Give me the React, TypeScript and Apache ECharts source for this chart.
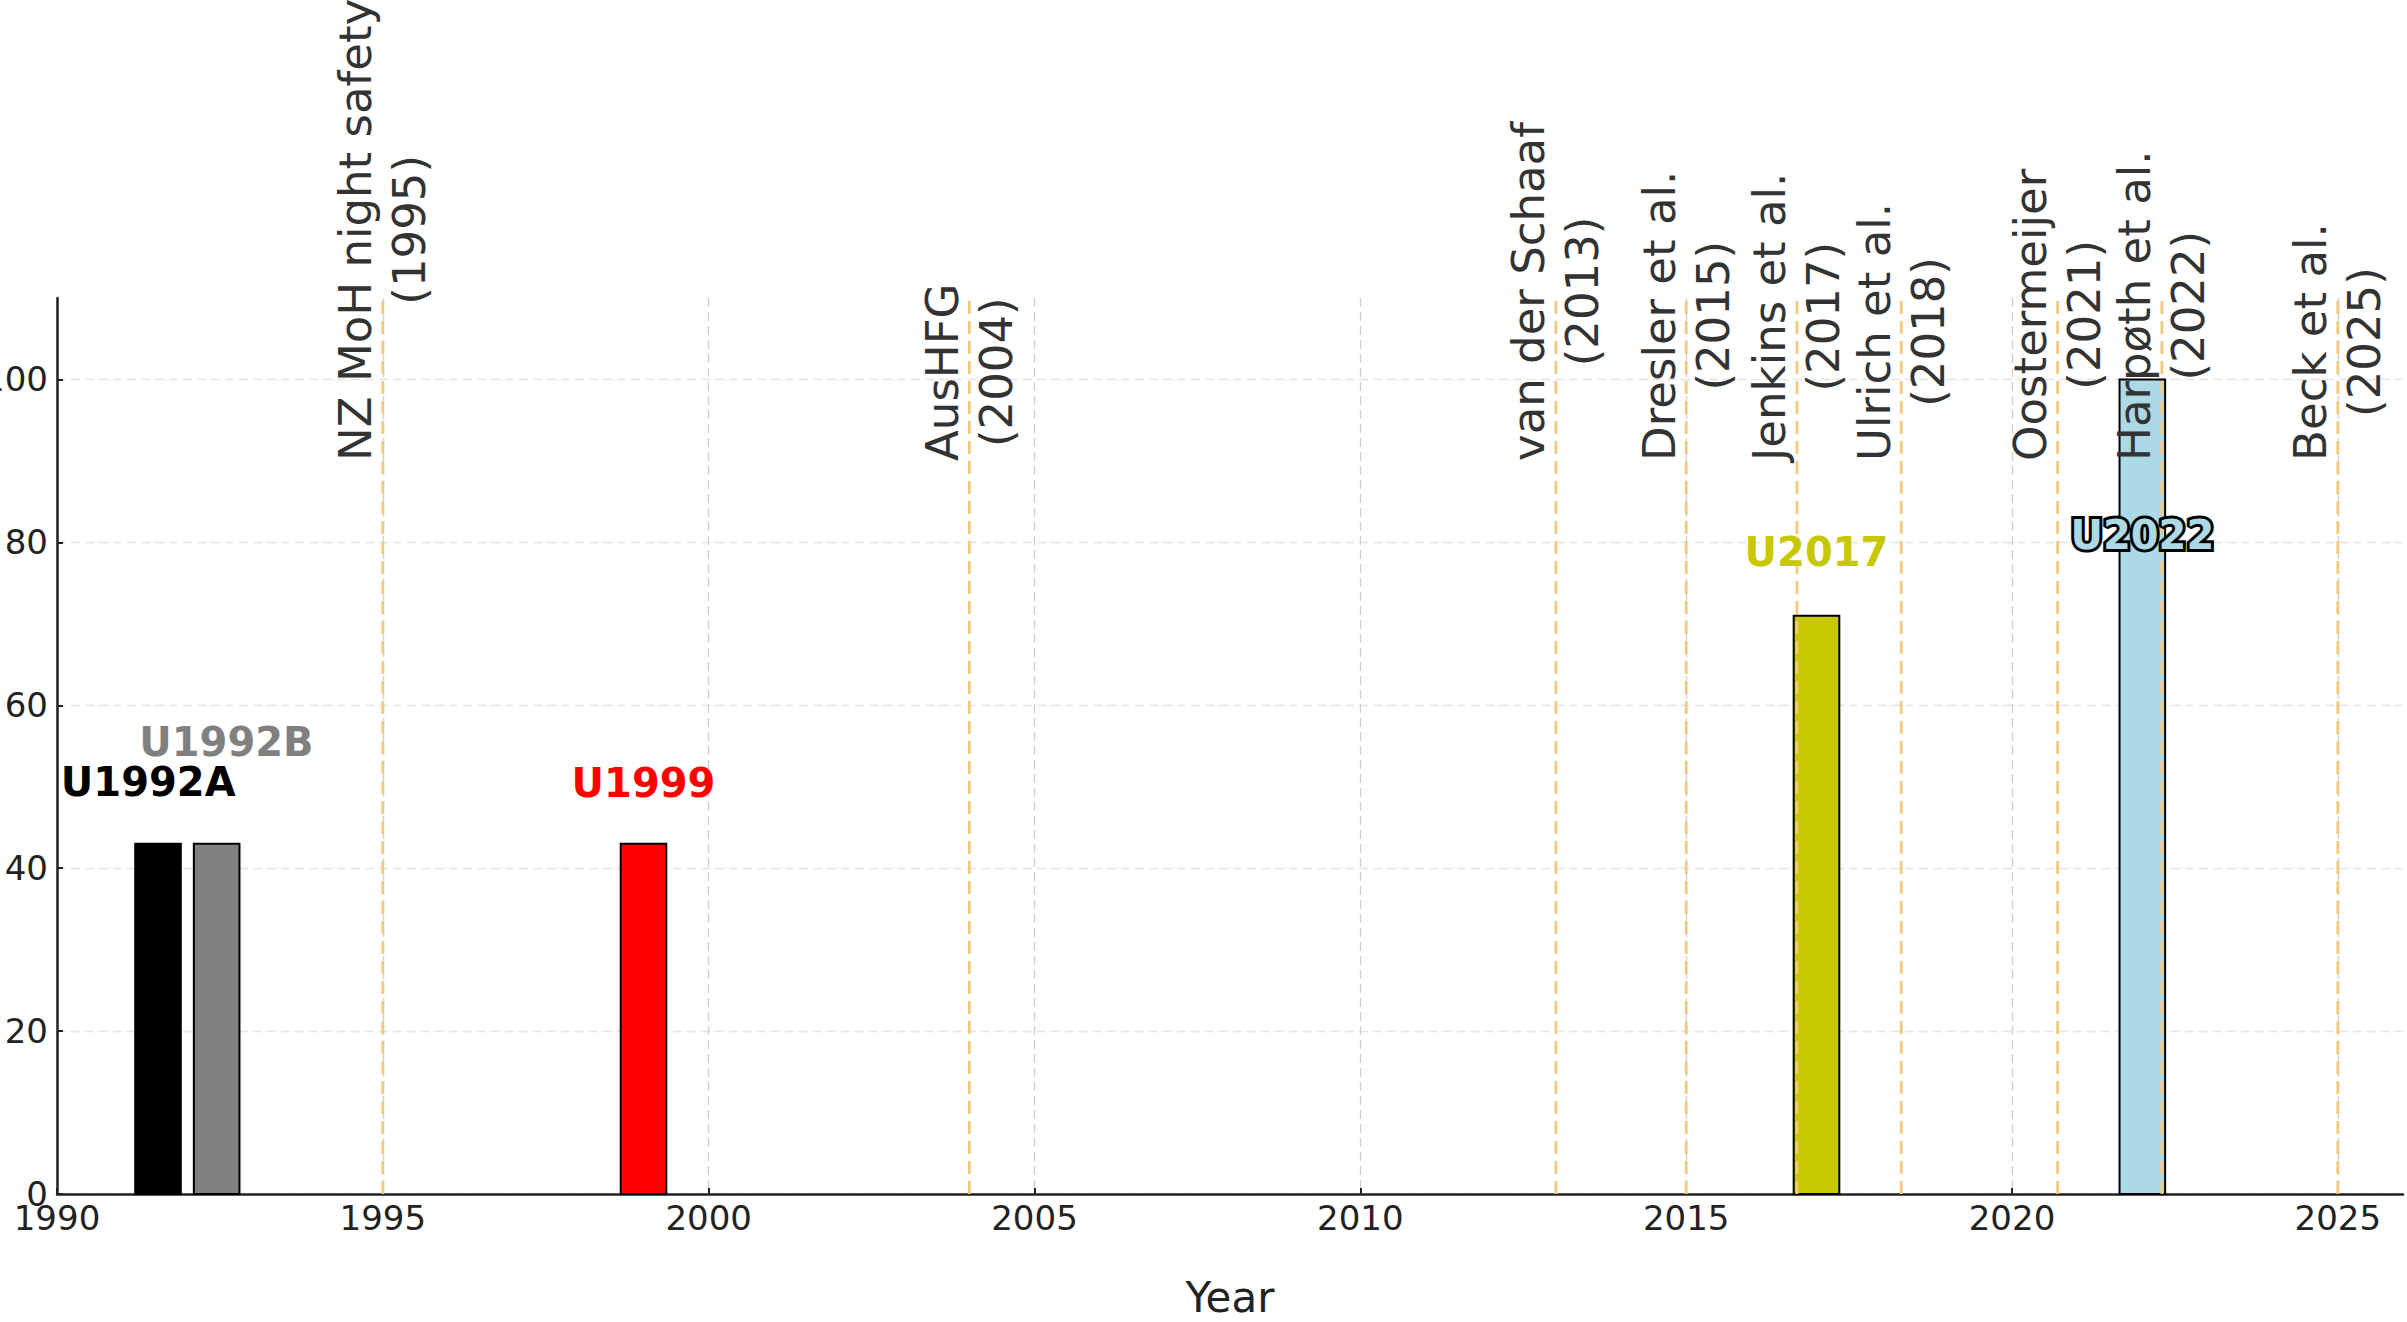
import React, { useEffect, useRef } from 'react';
import * as echarts from 'echarts';

// ---- data ----
const BAR_NAMES = ['U1992A', 'U1992B', 'U1999', 'U2017', 'U2022'];
const BAR_YEARS = [1991.55, 1992.45, 1999, 2017, 2022];
const BAR_VALUES = [43, 43, 43, 71, 100];
const BAR_COLORS = ['#000000', '#808080', '#ff0000', '#c8c800', '#add8e6'];
const LABEL_YEARS = [1991.4, 1992.6, 1999, 2017, 2022];
const LABEL_VALUES = [50.6, 55.5, 50.5, 78.8, 80.9];

const REF_NAMES = [
  'NZ MoH night safety',
  'AusHFG',
  'van der Schaaf',
  'Dresler et al.',
  'Jenkins et al.',
  'Ulrich et al.',
  'Oostermeijer',
  'Harpøth et al.',
  'Beck et al.',
];
const REF_YEARS = [1995, 2004, 2013, 2015, 2017, 2018, 2021, 2022, 2025];
const REF_POSITIONS = [1995, 2004, 2013, 2015, 2016.7, 2018.3, 2020.7, 2022.3, 2025];

const X_MIN = 1990;
const X_MAX = 2026;
const X_STEP = 5;
const Y_MIN = 0;
const Y_MAX = 110;
const Y_STEP = 20;
const BAR_WIDTH = 0.7;
const REF_TEXT_BASE = 90;

const FONT = '"DejaVu Sans", "Liberation Sans", sans-serif';
const REF_FONT_SIZE = 45;
const ORANGE = '#f3ca7c';

let measureCtx: CanvasRenderingContext2D | null = null;
function measure(text: string, font: string): number {
  if (!measureCtx) {
    const c = document.createElement('canvas');
    measureCtx = c.getContext('2d');
  }
  if (!measureCtx) return text.length * REF_FONT_SIZE * 0.6;
  measureCtx.font = font;
  return measureCtx.measureText(text).width;
}

export default function App() {
  const ref = useRef<HTMLDivElement>(null);

  useEffect(() => {
    if (!ref.current) return;
    const chart = echarts.init(ref.current, null, { renderer: 'svg' });
    const refFont = `${REF_FONT_SIZE}px ${FONT}`;

    const option: any = {
      animation: false,
      backgroundColor: '#ffffff',
      grid: {
        left: 57,
        right: 4,
        top: 298,
        bottom: 128,
        containLabel: false,
        outerBoundsMode: 'none',
      },
      xAxis: {
        type: 'value',
        min: X_MIN,
        max: X_MAX,
        interval: X_STEP,
        name: 'Year',
        nameLocation: 'middle',
        nameGap: 82,
        nameTextStyle: { fontSize: 42, color: '#222', fontFamily: FONT },
        axisLine: { show: true, onZero: false, lineStyle: { color: '#222', width: 2.5 } },
        axisTick: { show: true, inside: true, length: 6, lineStyle: { color: '#222', width: 2 } },
        axisLabel: {
          show: true,
          fontSize: 34,
          color: '#222',
          fontFamily: FONT,
          margin: 7,
          showMaxLabel: false,
          formatter: (v: number) => String(v),
        },
        splitLine: {
          show: true,
          showMaxLine: false,
          lineStyle: { color: '#cfcfcf', width: 1.3, type: [9, 5] },
        },
      },
      yAxis: {
        type: 'value',
        min: Y_MIN,
        max: Y_MAX,
        interval: Y_STEP,
        axisLine: { show: true, lineStyle: { color: '#222', width: 2.5 } },
        axisTick: { show: true, inside: true, length: 6, lineStyle: { color: '#222', width: 2 } },
        axisLabel: {
          show: true,
          fontSize: 34,
          color: '#222',
          fontFamily: FONT,
          margin: 9,
          showMaxLabel: false,
        },
        splitLine: {
          show: true,
          showMaxLine: false,
          lineStyle: { color: '#e4e4e4', width: 1.3, type: [9, 5] },
        },
      },
      series: [
        {
          type: 'custom',
          name: 'bars',
          z: 2,
          silent: true,
          data: BAR_YEARS.map((x, i) => [x, BAR_VALUES[i]]),
          renderItem: (params: any, api: any) => {
            const i = params.dataIndex;
            const x = api.value(0);
            const v = api.value(1);
            const tl = api.coord([x - BAR_WIDTH / 2, v]);
            const br = api.coord([x + BAR_WIDTH / 2, 0]);
            return {
              type: 'rect',
              shape: { x: tl[0], y: tl[1], width: br[0] - tl[0], height: br[1] - tl[1] },
              style: { fill: BAR_COLORS[i], stroke: '#000', lineWidth: 2 },
            };
          },
        },
        {
          type: 'custom',
          name: 'refs',
          z: 3,
          silent: true,
          clip: false,
          data: REF_POSITIONS.map((p) => [p, 0]),
          renderItem: (params: any, api: any) => {
            const i = params.dataIndex;
            const pos = api.value(0);
            const bottom = api.coord([pos, Y_MIN]);
            const top = api.coord([pos, Y_MAX]);
            const anchor = api.coord([pos, REF_TEXT_BASE]);
            const lines = [REF_NAMES[i], `(${REF_YEARS[i]})`];
            const w = Math.max(...lines.map((l) => measure(l, refFont)));
            return {
              type: 'group',
              children: [
                {
                  type: 'line',
                  shape: { x1: bottom[0], y1: bottom[1], x2: top[0], y2: top[1] },
                  style: { stroke: ORANGE, lineWidth: 2.8, lineDash: [13, 7] },
                },
                {
                  type: 'text',
                  x: anchor[0],
                  y: anchor[1] - w / 2,
                  rotation: Math.PI / 2,
                  style: {
                    text: lines.join('\n'),
                    font: refFont,
                    fill: '#333',
                    align: 'center',
                    verticalAlign: 'middle',
                    lineHeight: 54,
                  },
                },
              ],
            };
          },
        },
        {
          type: 'custom',
          name: 'labels',
          z: 4,
          silent: true,
          clip: false,
          data: LABEL_YEARS.map((x, i) => [x, LABEL_VALUES[i]]),
          renderItem: (params: any, api: any) => {
            const i = params.dataIndex;
            const p = api.coord([api.value(0), api.value(1)]);
            const outlined = i === BAR_NAMES.length - 1;
            return {
              type: 'text',
              x: p[0],
              y: p[1],
              style: {
                text: BAR_NAMES[i],
                font: `bold 40px ${FONT}`,
                fill: BAR_COLORS[i],
                align: 'center',
                verticalAlign: 'middle',
                stroke: outlined ? '#000' : undefined,
                lineWidth: outlined ? 6 : 0,
                strokeFirst: true,
              },
            };
          },
        },
      ],
    };

    chart.setOption(option);
    return () => chart.dispose();
  }, []);

  return (
    <div
      ref={ref}
      style={{ position: 'fixed', left: 0, top: 0, width: 2407, height: 1322, background: '#fff' }}
    />
  );
}
